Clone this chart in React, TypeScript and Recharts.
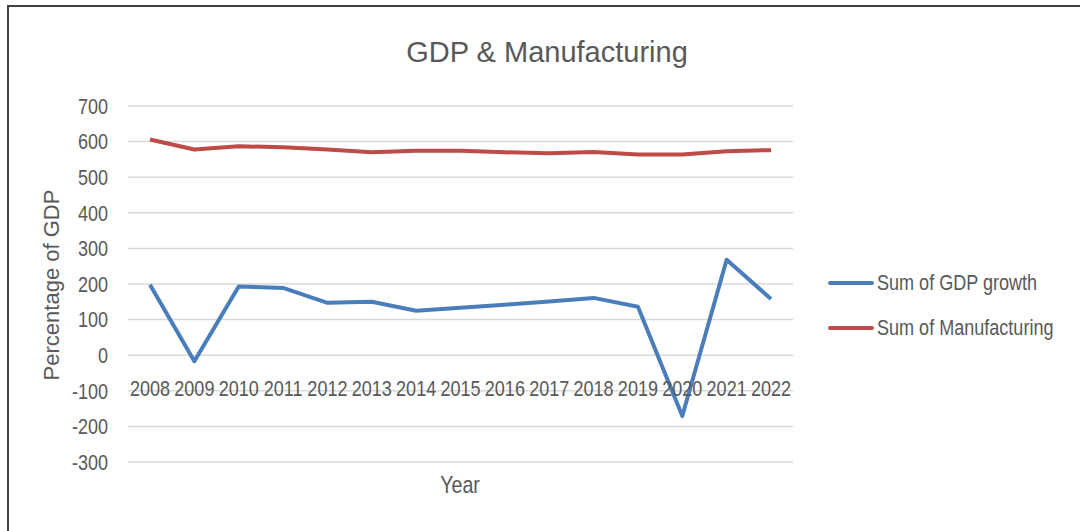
import React from 'react';
import { LineChart, Line, XAxis, YAxis, CartesianGrid } from 'recharts';

const years = ['2008', '2009', '2010', '2011', '2012', '2013', '2014', '2015', '2016', '2017', '2018', '2019', '2020', '2021', '2022'];
const gdpGrowth = [198, -17, 193, 189, 147, 150, 125, 133, 142, 151, 161, 136, -171, 268, 158];
const manufacturing = [606, 578, 587, 584, 578, 570, 574, 574, 570, 567, 571, 564, 564, 573, 576];
const yTicks = [-300, -200, -100, 0, 100, 200, 300, 400, 500, 600, 700];

const seriesList = [
  { key: 'gdp', name: 'Sum of GDP growth', color: '#4a7ebb' },
  { key: 'mfg', name: 'Sum of Manufacturing', color: '#be4b48' },
];

const data = years.map((year, i) => ({
  year,
  gdp: gdpGrowth[i],
  mfg: manufacturing[i],
}));

const font = '"Liberation Sans", Arial, sans-serif';
const textColor = '#595959';
const squeeze = 0.82; // arial squeezed, stands in for calibri's narrow figures

// category labels sit next to the zero line, like excel's "next to axis"
const YearTick = ({ x, y, payload }: any) => (
  <g transform={`translate(${x}, ${y - 74}) scale(${squeeze}, 1)`}>
    <text x={0} y={0} textAnchor="middle" fill={textColor} fontFamily={font} fontSize={22}>
      {payload.value}
    </text>
  </g>
);

const ValueTick = ({ x, y, payload }: any) => (
  <g transform={`translate(${x}, ${y}) scale(${squeeze}, 1)`}>
    <text x={0} y={0} dy="0.355em" textAnchor="end" fill={textColor} fontFamily={font} fontSize={22}>
      {payload.value}
    </text>
  </g>
);

export default function App() {
  return (
    <div style={{ position: 'absolute', left: 0, top: 0, width: 1080, height: 531, background: '#fff', overflow: 'hidden' }}>
      <div style={{ position: 'absolute', left: 7, top: 5, width: 1200, height: 700, border: '2px solid #404040' }} />
      <div style={{ position: 'absolute', left: 0, top: 0 }}>
        <LineChart width={1080} height={531} data={data} margin={{ top: 106, right: 287, bottom: 0, left: 8 }}>
          <text x={547} y={62} textAnchor="middle" fill={textColor} fontFamily={font} fontSize={29}>
            GDP &amp; Manufacturing
          </text>
          <text
            x={59}
            y={285}
            textAnchor="middle"
            transform="rotate(-90, 59, 285)"
            fill={textColor}
            fontFamily={font}
            fontSize={22}
          >
            Percentage of GDP
          </text>
          <g transform={`translate(460, 493) scale(${squeeze}, 1)`}>
            <text x={0} y={0} textAnchor="middle" fill={textColor} fontFamily={font} fontSize={24}>
              Year
            </text>
          </g>
          <CartesianGrid horizontal vertical={false} stroke="#d9d9d9" strokeWidth={1.5} />
          <XAxis
            dataKey="year"
            scale="point"
            padding={{ left: 22, right: 22 }}
            axisLine={false}
            tickLine={false}
            tick={<YearTick />}
            interval={0}
            height={69}
          />
          <YAxis
            domain={[-300, 700]}
            ticks={yTicks}
            interval={0}
            width={120}
            axisLine={false}
            tickLine={false}
            tickSize={0}
            tickMargin={20}
            tick={<ValueTick />}
          />
          {seriesList.map((s) => (
            <Line
              key={s.key}
              type="linear"
              dataKey={s.key}
              name={s.name}
              stroke={s.color}
              strokeWidth={4}
              strokeLinejoin="round"
              dot={false}
              isAnimationActive={false}
            />
          ))}
        </LineChart>
      </div>
      <div style={{ position: 'absolute', left: 828, top: 260 }}>
        {seriesList.map((s) => (
          <div key={s.key} style={{ display: 'flex', alignItems: 'center', height: 45 }}>
            <div style={{ width: 46, height: 4, borderRadius: 2, background: s.color, marginRight: 3, flexShrink: 0 }} />
            <span
              style={{
                display: 'inline-block',
                whiteSpace: 'nowrap',
                fontFamily: font,
                fontSize: 22,
                color: textColor,
                transform: `scaleX(${squeeze})`,
                transformOrigin: 'left center',
              }}
            >
              {s.name}
            </span>
          </div>
        ))}
      </div>
    </div>
  );
}
